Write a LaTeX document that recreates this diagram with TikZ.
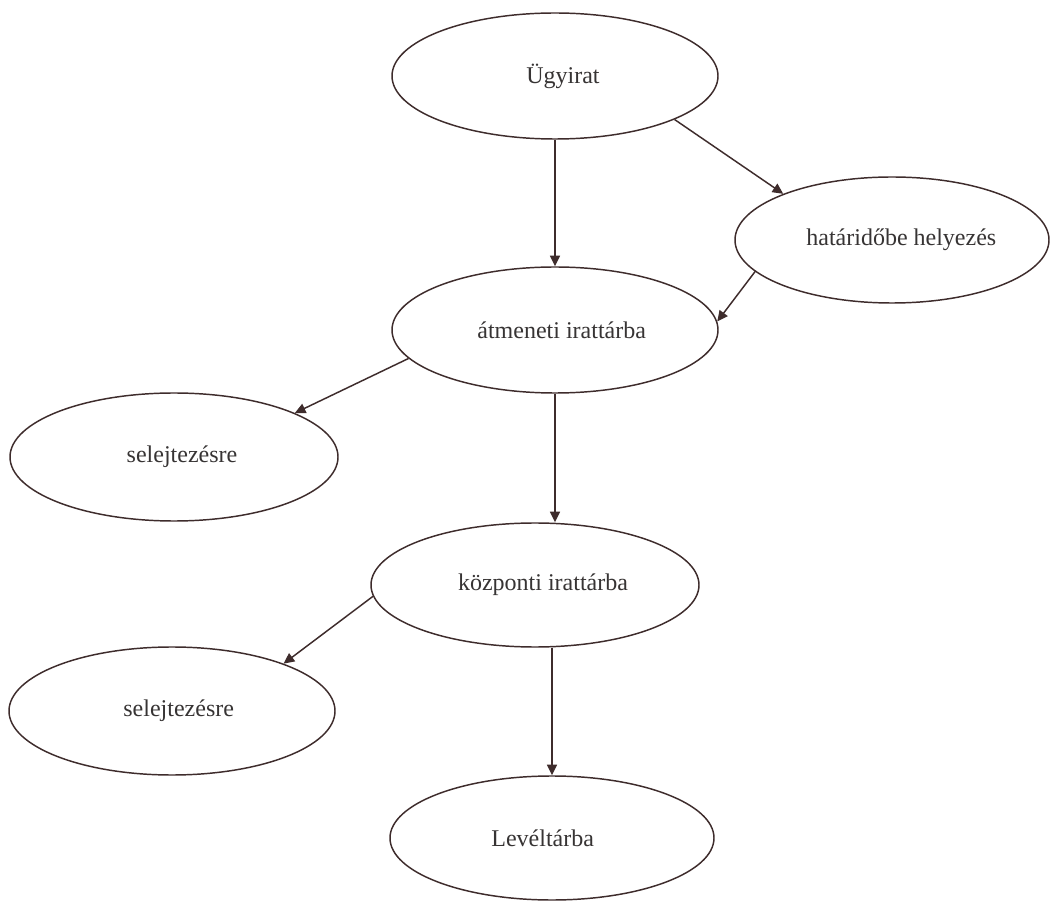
\documentclass[tikz,border=0pt]{standalone}
\usepackage{fontspec}
\setmainfont{Liberation Serif}
\usetikzlibrary{arrows.meta,shapes.geometric}
\definecolor{inkline}{RGB}{62,44,44}
\definecolor{inktext}{RGB}{55,52,52}
\tikzset{
  stage/.style={ellipse, draw=inkline, line width=1.1pt, inner sep=0pt,
    text=inktext, font=\fontsize{18}{20}\selectfont},
  flow/.style={draw=inkline, line width=1.1pt,
    -{Triangle[length=8pt,width=7.5pt]}}
}
% shift the label inside its ellipse by the given amount (pt)
\newcommand{\nudge}[2]{\ifdim#1pt<0pt\relax #2\kern-#1pt\relax\else\kern#1pt\relax #2\fi}
\begin{document}
\begin{tikzpicture}[x=0.75pt,y=-0.75pt]
\useasboundingbox[fill=white] (0,0) rectangle (1051,902);

% document stages
\node[stage, minimum width=326*0.75pt, minimum height=126*0.75pt] (ugy)  at (555,76)  {\nudge{12}{Ügyirat}};
\node[stage, minimum width=314*0.75pt, minimum height=126*0.75pt] (hat)  at (892,240) {\nudge{14}{határidőbe helyezés}};
\node[stage, minimum width=326*0.75pt, minimum height=126*0.75pt] (atm)  at (555,330) {\nudge{10}{átmeneti irattárba}};
\node[stage, minimum width=328*0.75pt, minimum height=128*0.75pt] (sel1) at (174,457) {\nudge{12}{selejtezésre}};
\node[stage, minimum width=328*0.75pt, minimum height=124*0.75pt] (kozp) at (535,585) {\nudge{12}{központi irattárba}};
\node[stage, minimum width=326*0.75pt, minimum height=128*0.75pt] (sel2) at (172,711) {\nudge{10}{selejtezésre}};
\node[stage, minimum width=324*0.75pt, minimum height=124*0.75pt] (lev)  at (552,838) {\nudge{-14}{Levéltárba}};

% transitions
\draw[flow] (ugy.south -| atm.north) -- (atm.north);
\draw[flow] (ugy.-20) -- (hat.157);
\draw[flow] (hat.193) -- (atm.3);
\draw[flow] (atm.191) -- (sel1.20);
\draw[flow] (atm.south) -- (atm.south |- kozp.north);
\draw[flow] (kozp.184) -- (sel2.23);
\draw[flow] (kozp.south -| lev.north) -- (lev.north);
\end{tikzpicture}
\end{document}
